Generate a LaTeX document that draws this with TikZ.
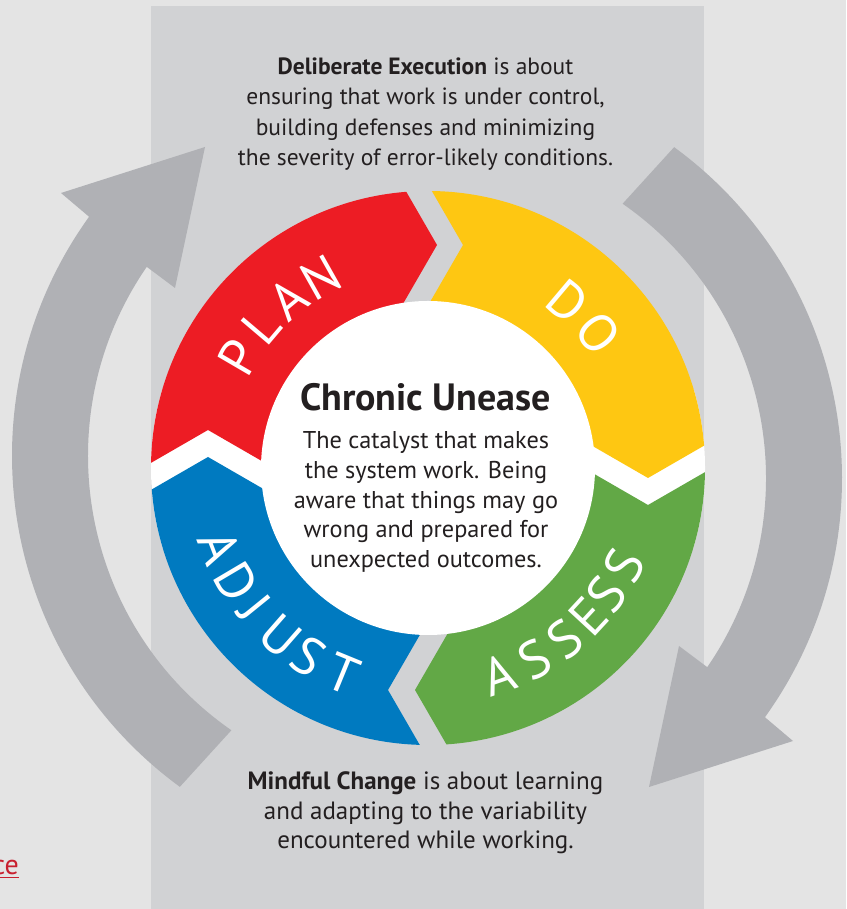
\documentclass[tikz,border=0pt]{standalone}
\usepackage{fontspec}
\setmainfont{PT Sans}
\usetikzlibrary{calc}
\definecolor{pagebg}{HTML}{E4E4E4}
\definecolor{panelgray}{HTML}{D1D2D4}
\definecolor{arrowgray}{HTML}{B0B1B5}
\definecolor{planred}{HTML}{ED1C24}
\definecolor{doyellow}{HTML}{FEC712}
\definecolor{assessgreen}{HTML}{62A846}
\definecolor{adjustblue}{HTML}{007AC0}
\definecolor{inktext}{HTML}{231F20}
\definecolor{linkred}{HTML}{C8202F}

\begin{document}
\begin{tikzpicture}[x=1pt,y=1pt]
	\tikzset{seglabel/.style={text=white,font=\fontsize{53}{53}\selectfont,inner sep=0pt,text height=37pt,text depth=0pt,anchor=center}}
	\tikzset{note/.style={text=inktext,align=center,inner sep=0pt,font=\fontsize{23.5}{30.3}\selectfont}}
	\tikzset{bigarrow/.style={fill=arrowgray}}
	% page and the grey panel
	\fill[pagebg] (0,0) rectangle (846,909);
	\fill[panelgray] (151,0) rectangle (704,903);
	\useasboundingbox (0,0) rectangle (846,909);
	\coordinate (ctr) at (428,441);
	% the two big grey arrows round the cycle
	\foreach \sx/\sy/\rot in {422/453/0,432/431/180}
		\fill[bigarrow,shift={(\sx,\sy)},rotate=\rot] (233.8:410) arc[start angle=233.8,end angle=144.3,radius=410]
			-- (-361,263) -- (-217,309) -- (-247,168) -- (145.5:334)
			arc[start angle=145.5,end angle=235.2,radius=334] -- cycle;
	% ring of four chevron segments
	\begin{scope}
		\clip (ctr) circle[radius=277];
		\fill[white] (140,360) rectangle (716,520);
		\fill[planred] (78,404) -- (208,479) -- (338,404) -- (337,491) -- (437,664) -- (327,854.5) -- (78,854.5) -- cycle;
		\fill[doyellow] (463,664) -- (353,854.5) -- (780,854.5) -- (778,506) -- (648,431) -- (518,506) -- (363,491) -- cycle;
		\fill[assessgreen] (648,404) -- (778,479) -- (778,20) -- (530,20) -- (415,219) -- (515,392) -- (518,479) -- cycle;
		\fill[adjustblue] (208,452) -- (338,377) -- (488,392) -- (388,219) -- (503,20) -- (78,20) -- (78,377) -- cycle;
	\end{scope}
	\fill[white] (ctr) circle[radius=167];
	% labels on the ring
	\foreach \ch/\a [count=\k] in {P/149.7,L/139.7,A/129.7,N/119.4}
		\node[seglabel,rotate=\a-90] (plan\k) at ($(ctr)+(\a:219)$) {\ch};
	\foreach \ch/\a [count=\k] in {D/49.9,O/38.4}
		\node[seglabel,rotate=\a-90] (do\k) at ($(ctr)+(\a:217)$) {\ch};
	\foreach \ch/\a [count=\k] in {A/-71,S/-60.8,S/-51.3,E/-42.8,S/-35.3,S/-26.4}
		\node[seglabel,rotate=\a+90] (assess\k) at ($(ctr)+(\a:219)$) {\ch};
	\foreach \ch/\a [count=\k] in {A/200.9,D/210.6,J/219,U/228.8,S/237.6,T/247.7}
		\node[seglabel,rotate=\a+90] (adjust\k) at ($(ctr)+(\a:223)$) {\ch};
	% texts
	\node[note] (execution) at (425.5,795) {\textbf{Deliberate Execution} is about\\ensuring that work is under control,\\building defenses and minimizing\\the severity of error-likely conditions.};
	\node[note,anchor=base,font=\bfseries\fontsize{38}{38}\selectfont] (unease) at (425.5,498.5) {Chronic Unease};
	\node[note,font=\fontsize{24.3}{29.7}\selectfont] (catalyst) at (426,407) {The catalyst that makes\\the system work. Being\\aware that things may go\\wrong and prepared for\\unexpected outcomes.};
	\node[note,font=\fontsize{25}{29.6}\selectfont] (change) at (425.5,96) {\textbf{Mindful Change} is about learning\\and adapting to the variability\\encountered while working.};
	\node[note,anchor=base east,text=linkred,font=\fontsize{28}{28}\selectfont] (link) at (19,34) {\underline{ce}};
\end{tikzpicture}
\end{document}
